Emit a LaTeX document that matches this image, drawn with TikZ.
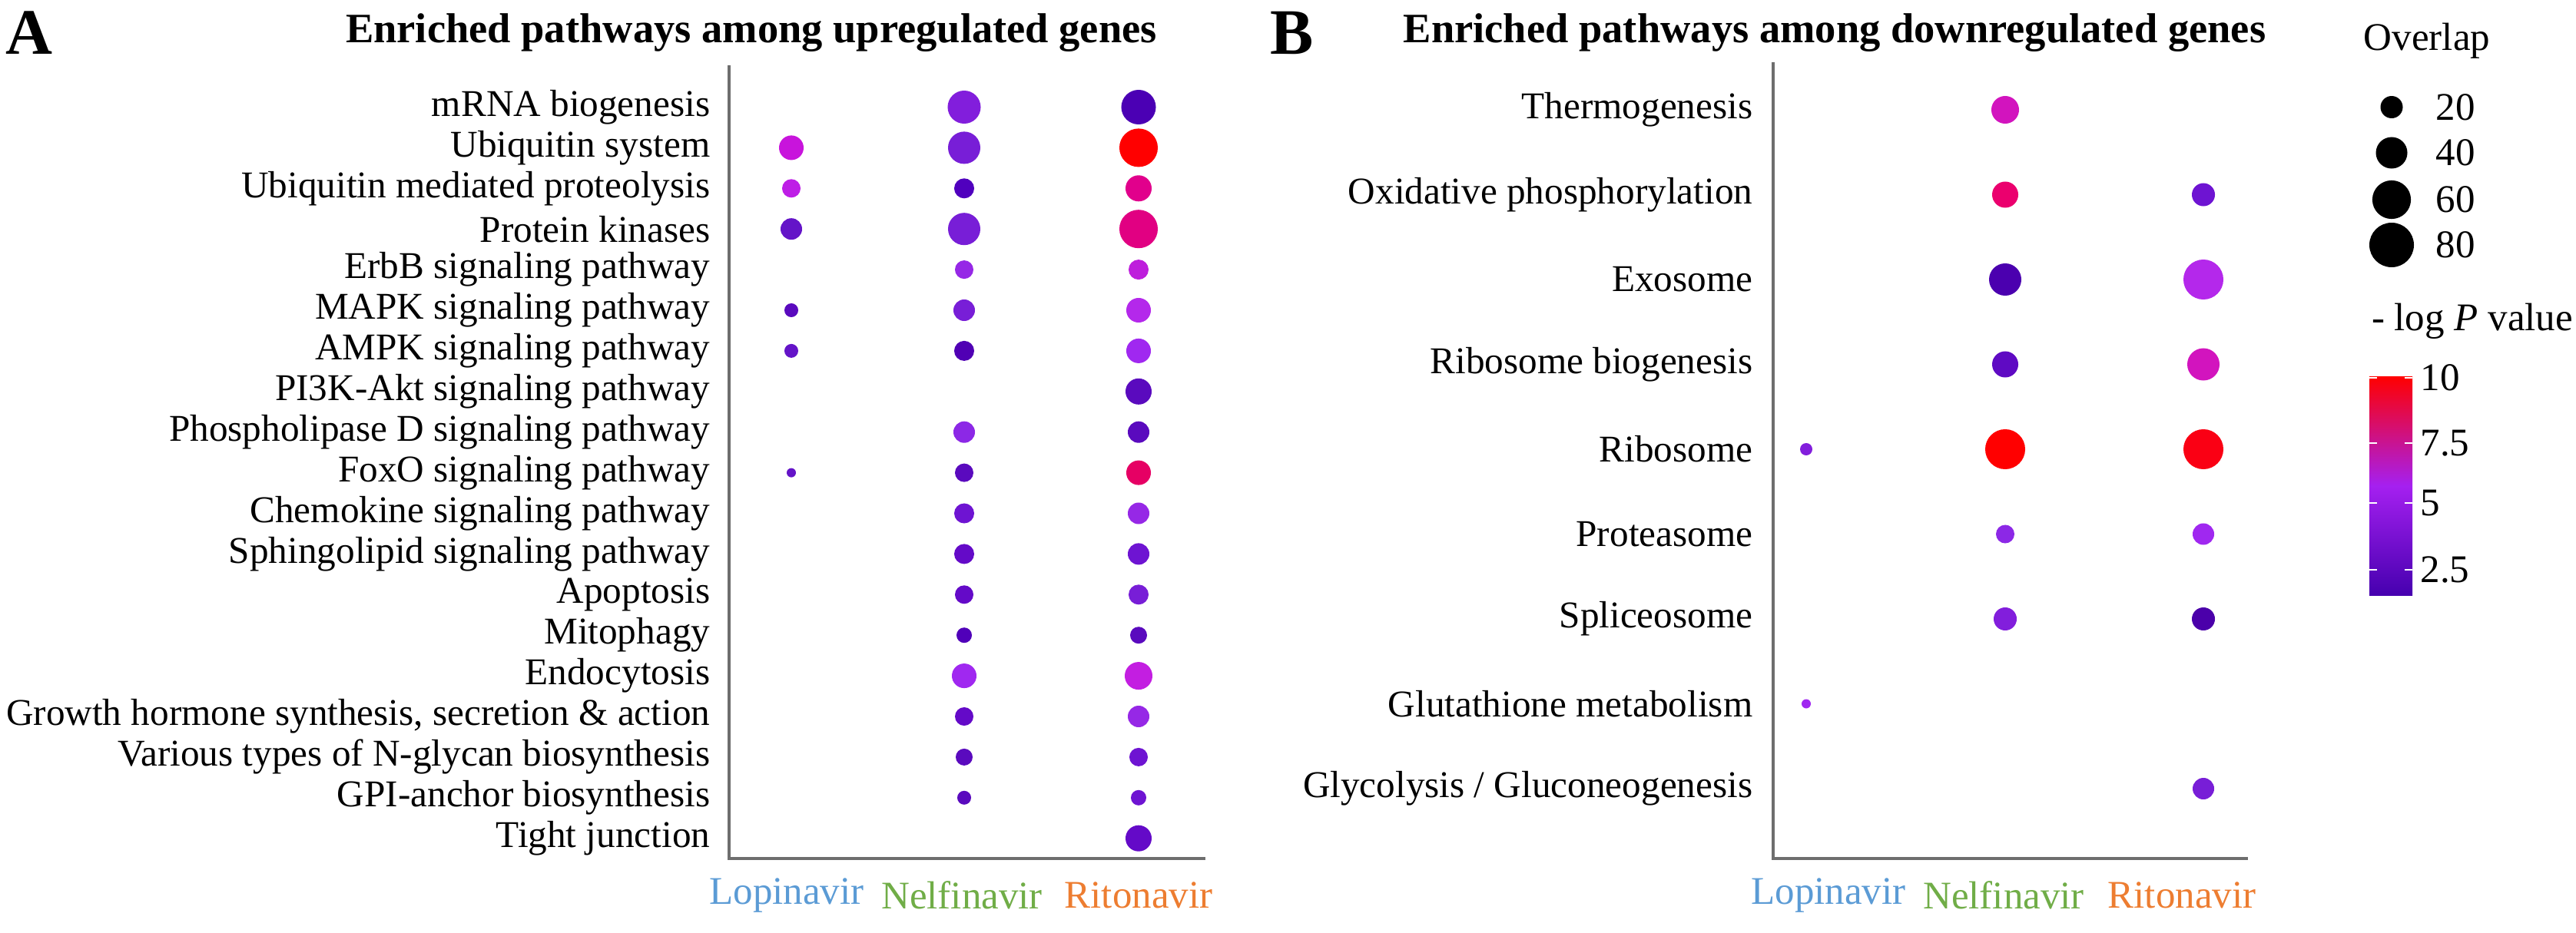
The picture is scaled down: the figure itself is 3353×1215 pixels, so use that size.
\documentclass[tikz,border=0pt]{standalone}
\usepackage{fontspec}
\setmainfont{Liberation Serif}
\definecolor{lopc}{RGB}{91,155,213}
\definecolor{nelc}{RGB}{112,173,71}
\definecolor{ritc}{RGB}{237,125,49}
\definecolor{axc}{RGB}{110,110,110}
\newcommand\pd[6]{\node[pdot,minimum size=#3*0.02cm,fill={rgb,255:red,#4;green,#5;blue,#6}] at (#1,#2) {};}
\begin{document}
\begin{tikzpicture}[x=0.01cm,y=-0.01cm,
  pdot/.style={circle,inner sep=0pt,draw=none},
  lab/.style={anchor=east,font=\fontsize{14}{14}\selectfont,inner sep=0pt},
  ttl/.style={font=\fontsize{15.5}{16}\selectfont\bfseries,inner sep=0pt},
  drug/.style={font=\fontsize{14.5}{15}\selectfont,inner sep=0pt},
  ax/.style={draw=axc,line width=0.9pt}]
\useasboundingbox (0,0) rectangle (3353,1215);
% ---------- Panel A ----------
\node[font=\fontsize{24}{24}\selectfont\bfseries] (A) at (38,43) {A};
\node[ttl] (tA) at (978,43) {Enriched pathways among upregulated genes};
\coordinate (a0) at (949,85); \coordinate (a1) at (949,1118); \coordinate (a2) at (1569,1118);
\draw[ax] (a0) -- (a1) -- (a2);
\foreach \t [count=\i from 0] in {mRNA biogenesis,Ubiquitin system,Ubiquitin mediated proteolysis,Protein kinases,ErbB signaling pathway,MAPK signaling pathway,AMPK signaling pathway,PI3K-Akt signaling pathway,Phospholipase D signaling pathway,FoxO signaling pathway,Chemokine signaling pathway,Sphingolipid signaling pathway,Apoptosis,Mitophagy,Endocytosis,{Growth hormone synthesis, secretion \& action},Various types of N-glycan biosynthesis,GPI-anchor biosynthesis,Tight junction}
  \node[lab] (la\i) at (925,139.5+52.9*\i) {\t};
\node[drug,text=lopc] (lopA) at (1024,1166) {Lopinavir};
\node[drug,text=nelc] (nelA) at (1252,1166) {Nelfinavir};
\node[drug,text=ritc] (ritA) at (1482,1166) {Ritonavir};
% dots A: columns 1030,1255,1482
\pd{1255}{139.5}{21.5}{130}{30}{220}
\pd{1482}{139.5}{22.5}{75}{0}{180}
\pd{1030}{192.4}{16}{200}{20}{220}
\pd{1255}{192.4}{21}{120}{30}{215}
\pd{1482}{192.4}{25}{255}{0}{0}
\pd{1030}{245.3}{12}{190}{30}{230}
\pd{1255}{245.3}{13}{80}{0}{190}
\pd{1482}{245.3}{17}{225}{0}{140}
\pd{1030}{298.2}{14}{100}{20}{200}
\pd{1255}{298.2}{21}{120}{30}{215}
\pd{1482}{298.2}{25}{225}{0}{130}
\pd{1255}{351.1}{12}{150}{40}{230}
\pd{1482}{351.1}{13}{190}{30}{220}
\pd{1030}{404}{9}{90}{10}{190}
\pd{1255}{404}{14}{120}{30}{215}
\pd{1482}{404}{16}{180}{40}{235}
\pd{1030}{456.9}{9}{100}{20}{200}
\pd{1255}{456.9}{13}{80}{0}{180}
\pd{1482}{456.9}{16}{160}{40}{240}
\pd{1482}{509.8}{17}{90}{10}{190}
\pd{1255}{562.7}{14}{140}{40}{230}
\pd{1482}{562.7}{14}{90}{10}{190}
\pd{1030}{615.6}{6}{100}{20}{200}
\pd{1255}{615.6}{12}{90}{10}{190}
\pd{1482}{615.6}{16}{230}{0}{100}
\pd{1255}{668.5}{13}{110}{20}{210}
\pd{1482}{668.5}{14}{150}{40}{230}
\pd{1255}{721.4}{13}{100}{10}{200}
\pd{1482}{721.4}{14}{110}{20}{210}
\pd{1255}{774.3}{12}{100}{10}{200}
\pd{1482}{774.3}{13}{120}{30}{215}
\pd{1255}{827.2}{10}{80}{0}{185}
\pd{1482}{827.2}{11}{90}{10}{190}
\pd{1255}{880.1}{16}{160}{40}{240}
\pd{1482}{880.1}{18}{195}{30}{225}
\pd{1255}{933}{12}{100}{10}{200}
\pd{1482}{933}{14}{150}{40}{230}
\pd{1255}{985.9}{11}{90}{10}{190}
\pd{1482}{985.9}{12}{110}{20}{210}
\pd{1255}{1038.8}{9}{90}{10}{190}
\pd{1482}{1038.8}{10}{110}{20}{210}
\pd{1482}{1091.7}{17}{100}{10}{200}
% ---------- Panel B ----------
\node[font=\fontsize{24}{24}\selectfont\bfseries] (B) at (1682,43) {B};
\node[ttl] (tB) at (2388,43) {Enriched pathways among downregulated genes};
\coordinate (b0) at (2308,81); \coordinate (b1) at (2308,1118); \coordinate (b2) at (2926,1118);
\draw[ax] (b0) -- (b1) -- (b2);
\foreach \t [count=\i from 0] in {Thermogenesis,Oxidative phosphorylation,Exosome,Ribosome biogenesis,Ribosome,Proteasome,Spliceosome,Glutathione metabolism,Glycolysis / Gluconeogenesis}
  \node[lab] (lb\i) at (2282,143+110.5*\i) {\t};
\node[drug,text=lopc] (lopB) at (2380,1166) {Lopinavir};
\node[drug,text=nelc] (nelB) at (2608,1166) {Nelfinavir};
\node[drug,text=ritc] (ritB) at (2840,1166) {Ritonavir};
% dots B: columns 2351,2610,2868
\pd{2610}{143}{18}{210}{20}{190}
\pd{2610}{253.5}{17}{235}{0}{110}
\pd{2868}{253.5}{15}{110}{20}{210}
\pd{2610}{364}{21}{75}{0}{175}
\pd{2868}{364}{26}{180}{40}{235}
\pd{2610}{474.5}{17}{95}{10}{195}
\pd{2868}{474.5}{21}{210}{20}{190}
\pd{2351}{585}{8}{130}{30}{220}
\pd{2610}{585}{26}{255}{0}{0}
\pd{2868}{585}{26}{250}{0}{20}
\pd{2610}{695.5}{12}{140}{40}{230}
\pd{2868}{695.5}{14}{160}{40}{240}
\pd{2610}{806}{15}{130}{30}{220}
\pd{2868}{806}{15}{75}{0}{170}
\pd{2351}{916.5}{6}{160}{40}{240}
\pd{2868}{1027}{14}{120}{30}{215}
% ---------- Legend ----------
\node[drug] (ovl) at (3159,53) {Overlap};
\foreach \v/\yy in {20/139.5,40/199,60/260,80/319}{
  \node[pdot,fill=black,minimum size={0.0648cm*sqrt(\v)}] (o\v) at (3113,\yy) {};
  \node[drug,anchor=west] (ol\v) at (3170,\yy) {\v};
}
\node[drug] (lgp) at (3218,418) {- log \textit{P} value};
\shade[bottom color={rgb,255:red,70;green,0;blue,175},top color={rgb,255:red,255;green,0;blue,0},middle color={rgb,255:red,165;green,32;blue,240}] (3084,490) rectangle (3140,775);
\foreach \v/\yy in {10/492,7.5/577,5/655,2.5/742}{
  \draw[white,line width=0.8pt] (3084,\yy) -- (3094,\yy) (3130,\yy) -- (3140,\yy);
  \node[drug,anchor=west] (cb\v) at (3150,\yy) {\v};
}
\end{tikzpicture}
\end{document}
